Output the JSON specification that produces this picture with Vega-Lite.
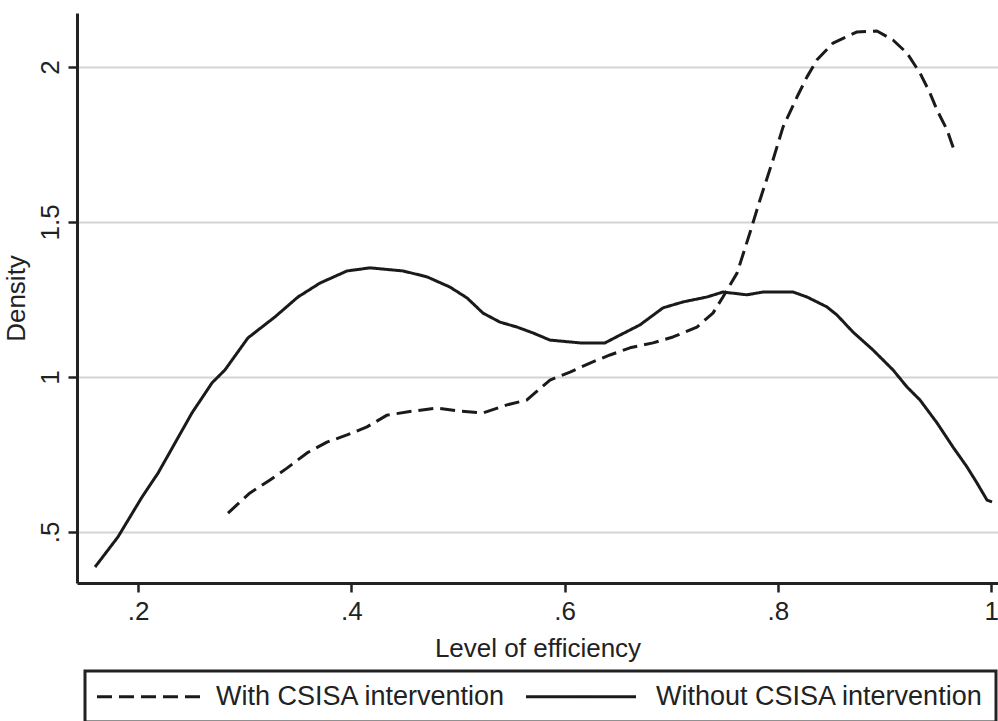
{
  "$schema": "https://vega.github.io/schema/vega-lite/v6.json",
  "autosize": "none",
  "padding": {"left": 77, "top": 13, "right": 0, "bottom": 138},
  "width": 921,
  "height": 570,
  "background": "white",
  "config": {
    "view": {"stroke": null},
    "font": "Liberation Sans",
    "axis": {
      "domainColor": "#222222",
      "domainWidth": 3,
      "tickColor": "#222222",
      "tickWidth": 2.5,
      "tickSize": 9,
      "labelFont": "Liberation Sans",
      "labelFontSize": 26,
      "labelColor": "#222222",
      "titleFont": "Liberation Sans",
      "titleFontSize": 26,
      "titleFontWeight": "normal",
      "titleColor": "#222222"
    }
  },
  "data": {
    "values": [
      {"x": 0.1597, "y": 0.387, "g": "Without CSISA intervention"},
      {"x": 0.1812, "y": 0.484, "g": "Without CSISA intervention"},
      {"x": 0.2038, "y": 0.613, "g": "Without CSISA intervention"},
      {"x": 0.2188, "y": 0.690, "g": "Without CSISA intervention"},
      {"x": 0.2347, "y": 0.787, "g": "Without CSISA intervention"},
      {"x": 0.2506, "y": 0.884, "g": "Without CSISA intervention"},
      {"x": 0.2694, "y": 0.981, "g": "Without CSISA intervention"},
      {"x": 0.2816, "y": 1.023, "g": "Without CSISA intervention"},
      {"x": 0.3031, "y": 1.126, "g": "Without CSISA intervention"},
      {"x": 0.3285, "y": 1.194, "g": "Without CSISA intervention"},
      {"x": 0.3500, "y": 1.258, "g": "Without CSISA intervention"},
      {"x": 0.3707, "y": 1.303, "g": "Without CSISA intervention"},
      {"x": 0.3960, "y": 1.342, "g": "Without CSISA intervention"},
      {"x": 0.4175, "y": 1.352, "g": "Without CSISA intervention"},
      {"x": 0.4485, "y": 1.342, "g": "Without CSISA intervention"},
      {"x": 0.4710, "y": 1.323, "g": "Without CSISA intervention"},
      {"x": 0.4925, "y": 1.290, "g": "Without CSISA intervention"},
      {"x": 0.5085, "y": 1.255, "g": "Without CSISA intervention"},
      {"x": 0.5235, "y": 1.206, "g": "Without CSISA intervention"},
      {"x": 0.5394, "y": 1.177, "g": "Without CSISA intervention"},
      {"x": 0.5554, "y": 1.161, "g": "Without CSISA intervention"},
      {"x": 0.5704, "y": 1.142, "g": "Without CSISA intervention"},
      {"x": 0.5863, "y": 1.119, "g": "Without CSISA intervention"},
      {"x": 0.6144, "y": 1.110, "g": "Without CSISA intervention"},
      {"x": 0.6379, "y": 1.110, "g": "Without CSISA intervention"},
      {"x": 0.6519, "y": 1.135, "g": "Without CSISA intervention"},
      {"x": 0.6707, "y": 1.168, "g": "Without CSISA intervention"},
      {"x": 0.6923, "y": 1.223, "g": "Without CSISA intervention"},
      {"x": 0.7110, "y": 1.242, "g": "Without CSISA intervention"},
      {"x": 0.7335, "y": 1.258, "g": "Without CSISA intervention"},
      {"x": 0.7485, "y": 1.274, "g": "Without CSISA intervention"},
      {"x": 0.7710, "y": 1.265, "g": "Without CSISA intervention"},
      {"x": 0.7860, "y": 1.274, "g": "Without CSISA intervention"},
      {"x": 0.8142, "y": 1.274, "g": "Without CSISA intervention"},
      {"x": 0.8273, "y": 1.258, "g": "Without CSISA intervention"},
      {"x": 0.8460, "y": 1.226, "g": "Without CSISA intervention"},
      {"x": 0.8554, "y": 1.200, "g": "Without CSISA intervention"},
      {"x": 0.8704, "y": 1.145, "g": "Without CSISA intervention"},
      {"x": 0.8892, "y": 1.087, "g": "Without CSISA intervention"},
      {"x": 0.9079, "y": 1.023, "g": "Without CSISA intervention"},
      {"x": 0.9210, "y": 0.968, "g": "Without CSISA intervention"},
      {"x": 0.9332, "y": 0.926, "g": "Without CSISA intervention"},
      {"x": 0.9492, "y": 0.852, "g": "Without CSISA intervention"},
      {"x": 0.9642, "y": 0.774, "g": "Without CSISA intervention"},
      {"x": 0.9773, "y": 0.710, "g": "Without CSISA intervention"},
      {"x": 0.9867, "y": 0.658, "g": "Without CSISA intervention"},
      {"x": 0.9961, "y": 0.603, "g": "Without CSISA intervention"},
      {"x": 1.0008, "y": 0.597, "g": "Without CSISA intervention"},
      {"x": 0.2844, "y": 0.561, "g": "With CSISA intervention"},
      {"x": 0.3050, "y": 0.626, "g": "With CSISA intervention"},
      {"x": 0.3238, "y": 0.668, "g": "With CSISA intervention"},
      {"x": 0.3397, "y": 0.706, "g": "With CSISA intervention"},
      {"x": 0.3585, "y": 0.755, "g": "With CSISA intervention"},
      {"x": 0.3772, "y": 0.790, "g": "With CSISA intervention"},
      {"x": 0.3960, "y": 0.813, "g": "With CSISA intervention"},
      {"x": 0.4147, "y": 0.839, "g": "With CSISA intervention"},
      {"x": 0.4335, "y": 0.877, "g": "With CSISA intervention"},
      {"x": 0.4579, "y": 0.890, "g": "With CSISA intervention"},
      {"x": 0.4804, "y": 0.900, "g": "With CSISA intervention"},
      {"x": 0.5019, "y": 0.890, "g": "With CSISA intervention"},
      {"x": 0.5235, "y": 0.884, "g": "With CSISA intervention"},
      {"x": 0.5460, "y": 0.910, "g": "With CSISA intervention"},
      {"x": 0.5647, "y": 0.926, "g": "With CSISA intervention"},
      {"x": 0.5863, "y": 0.990, "g": "With CSISA intervention"},
      {"x": 0.6051, "y": 1.016, "g": "With CSISA intervention"},
      {"x": 0.6238, "y": 1.045, "g": "With CSISA intervention"},
      {"x": 0.6426, "y": 1.071, "g": "With CSISA intervention"},
      {"x": 0.6613, "y": 1.094, "g": "With CSISA intervention"},
      {"x": 0.6829, "y": 1.110, "g": "With CSISA intervention"},
      {"x": 0.7016, "y": 1.129, "g": "With CSISA intervention"},
      {"x": 0.7241, "y": 1.161, "g": "With CSISA intervention"},
      {"x": 0.7391, "y": 1.206, "g": "With CSISA intervention"},
      {"x": 0.7485, "y": 1.258, "g": "With CSISA intervention"},
      {"x": 0.7617, "y": 1.335, "g": "With CSISA intervention"},
      {"x": 0.7738, "y": 1.465, "g": "With CSISA intervention"},
      {"x": 0.7832, "y": 1.571, "g": "With CSISA intervention"},
      {"x": 0.7954, "y": 1.700, "g": "With CSISA intervention"},
      {"x": 0.8048, "y": 1.806, "g": "With CSISA intervention"},
      {"x": 0.8179, "y": 1.903, "g": "With CSISA intervention"},
      {"x": 0.8273, "y": 1.968, "g": "With CSISA intervention"},
      {"x": 0.8367, "y": 2.023, "g": "With CSISA intervention"},
      {"x": 0.8517, "y": 2.077, "g": "With CSISA intervention"},
      {"x": 0.8742, "y": 2.113, "g": "With CSISA intervention"},
      {"x": 0.8929, "y": 2.116, "g": "With CSISA intervention"},
      {"x": 0.9079, "y": 2.087, "g": "With CSISA intervention"},
      {"x": 0.9210, "y": 2.045, "g": "With CSISA intervention"},
      {"x": 0.9332, "y": 1.981, "g": "With CSISA intervention"},
      {"x": 0.9426, "y": 1.916, "g": "With CSISA intervention"},
      {"x": 0.9492, "y": 1.861, "g": "With CSISA intervention"},
      {"x": 0.9586, "y": 1.797, "g": "With CSISA intervention"},
      {"x": 0.9661, "y": 1.723, "g": "With CSISA intervention"}
    ]
  },
  "mark": {"type": "line", "color": "#1a1a1a", "strokeWidth": 3, "strokeJoin": "round"},
  "encoding": {
    "x": {
      "field": "x",
      "type": "quantitative",
      "scale": {"domain": [0.1428, 1.0064], "nice": false, "zero": false},
      "axis": {
        "title": "Level of efficiency",
        "values": [0.2, 0.4, 0.6, 0.8, 1],
        "labelExpr": "datum.value < 1 ? slice(format(datum.value, '.1f'), 1) : toString(datum.value)",
        "grid": false,
        "labelPadding": 6,
        "titlePadding": 11
      }
    },
    "y": {
      "field": "y",
      "type": "quantitative",
      "scale": {"domain": [0.3355, 2.174], "nice": false, "zero": false},
      "axis": {
        "title": "Density",
        "values": [0.5, 1, 1.5, 2],
        "labelExpr": "datum.value < 1 ? slice(format(datum.value, '.1f'), 1) : toString(datum.value)",
        "grid": true,
        "gridColor": "#d4d4d4",
        "gridWidth": 2,
        "labelAngle": -90,
        "labelAlign": "center",
        "labelBaseline": "bottom",
        "labelPadding": 5,
        "titlePadding": 8
      }
    },
    "strokeDash": {
      "field": "g",
      "type": "nominal",
      "scale": {
        "domain": ["With CSISA intervention", "Without CSISA intervention"],
        "range": [[15, 7], [1, 0]]
      },
      "legend": {
        "title": null,
        "orient": "none",
        "legendX": 8,
        "legendY": 658,
        "direction": "horizontal",
        "columns": 2,
        "symbolType": "stroke",
        "symbolSize": 400,
        "symbolStrokeWidth": 3,
        "symbolStrokeColor": "#1a1a1a",
        "labelFont": "Liberation Sans",
        "labelFontSize": 27,
        "labelColor": "#222222",
        "labelOffset": 15,
        "labelLimit": 0,
        "columnPadding": 14,
        "padding": 12,
        "strokeColor": "#222222",
        "encode": {
          "legend": {"update": {"strokeWidth": {"value": 3}}},
          "symbols": {
            "update": {
              "size": {"value": 12100},
              "x": {"value": 55},
              "y": {"value": 13.5}
            }
          },
          "labels": {
            "update": {
              "x": {"signal": "datum.index == 0 ? 119 : 130"},
              "y": {"value": 13.5}
            }
          }
        }
      }
    }
  }
}
